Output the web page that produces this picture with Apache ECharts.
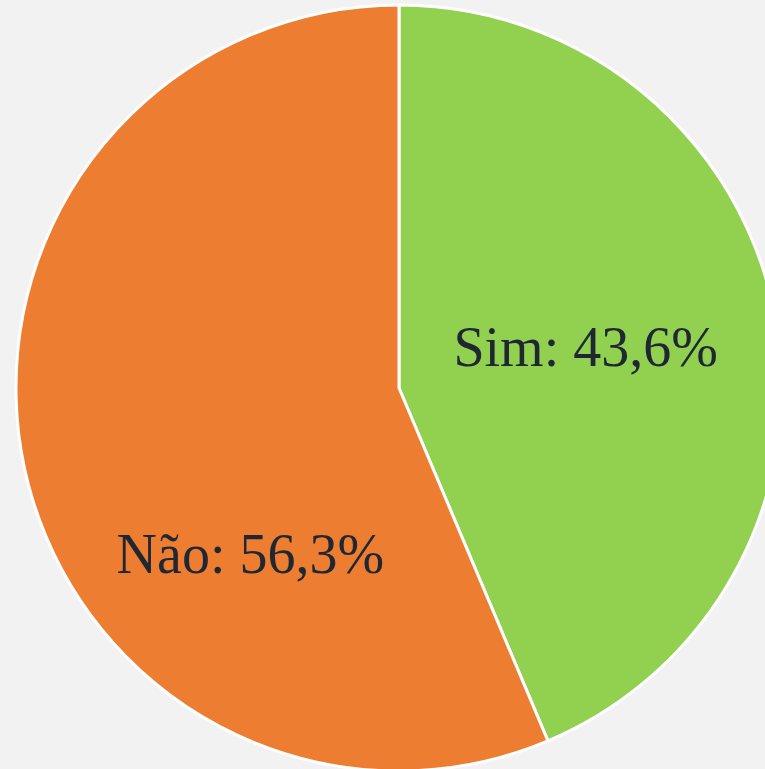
<!DOCTYPE html>
<html>

<head>
    <meta http-equiv="Content-Type" content="text/html; charset=utf-8" />
    <title>pie</title>
    <style type="text/css">
    body,
    html {
        width: 100%;
        height: 100%;
        margin: 0;
        overflow: hidden;
        background-color: #f2f2f2;
    }

    #container {
        width: 765px;
        height: 769px;
    }
    </style>
</head>

<body>
    <div id="container"></div>
</body>
<script src="https://cdn.jsdelivr.net/npm/echarts@6/dist/echarts.min.js"></script>
<script>
var categories = ['Sim', 'Não'];
var values = [43.6, 56.3];
var colors = ['#92d050', '#ed7d31'];

var chartDom = document.getElementById('container');
var myChart = echarts.init(chartDom);

// ajuste fino dos rótulos (o do "Não" fica mais para baixo no original)
var labelOffsets = [[-4, 2], [42, 132]];

var seriesData = categories.map(function(name, i) {
    return {
        name: name,
        value: values[i],
        itemStyle: { color: colors[i] },
        label: { offset: labelOffsets[i] }
    };
});

var option = {
    backgroundColor: '#f2f2f2',
    animation: false,
    series: [{
        type: 'pie',
        center: [399, 388],
        radius: 383,
        startAngle: 90,
        clockwise: true,
        data: seriesData,
        itemStyle: {
            borderColor: '#ffffff',
            borderWidth: 3
        },
        label: {
            position: 'inside',
            fontFamily: 'Liberation Serif',
            fontSize: 56,
            color: '#1f2733',
            formatter: function(p) {
                return p.name + ': ' + String(p.value).replace('.', ',') + '%';
            }
        },
        labelLine: { show: false },
        emphasis: { disabled: true }
    }]
};

option && myChart.setOption(option);
</script>

</html>
